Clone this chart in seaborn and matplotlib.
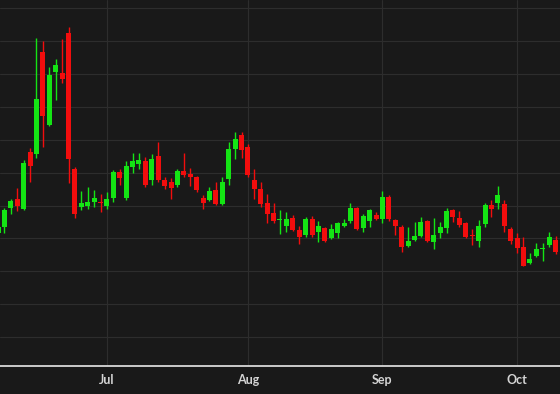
import matplotlib
matplotlib.use('Agg')
import matplotlib.pyplot as plt
import numpy as np
import pandas as pd
import seaborn as sns


# daily candles, one entry per trading day
opens = [41.6, 43.5, 49.2, 52.0, 48.9, 66.3, 65.7, 96.7, 74.5, 90.6, 90.3, 102.4, 61.1,
         49.5, 49.8, 51.1, 51.1, 49.8, 52.3, 60.2, 52.3, 61.7, 62.6, 63.5, 57.8, 65.0,
         57.8, 57.1, 56.2, 60.5, 59.6, 58.7, 52.3, 51.7, 54.7, 50.5, 58.1, 67.2, 71.4,
         67.8, 57.8, 55.0, 50.8, 47.7, 45.5, 43.8, 46.2, 42.6, 41.0, 45.9, 41.9, 43.2,
         40.1, 41.6, 43.8, 45.3, 49.2, 43.2, 45.3, 47.1, 45.9, 52.6, 45.6, 43.5, 37.7,
         39.5, 40.7, 45.3, 38.9, 41.6, 43.2, 48.6, 46.2, 44.7, 41.0, 39.2, 44.4, 50.2,
         50.8, 50.5, 42.9, 40.1, 37.4, 32.5, 34.7, 36.8, 38.0, 39.5]
highs = [44.1, 49.2, 52.0, 55.3, 63.8, 67.5, 100.9, 100.0, 92.1, 94.5, 100.6, 104.3, 61.7,
         54.4, 55.6, 54.7, 53.5, 54.1, 60.8, 61.1, 63.5, 66.0, 66.0, 64.7, 65.7, 69.3,
         58.7, 58.4, 61.1, 66.0, 61.4, 59.0, 53.2, 55.6, 57.1, 58.7, 69.3, 72.3, 72.3,
         68.7, 61.1, 57.1, 53.5, 50.8, 48.6, 48.0, 47.1, 43.8, 46.5, 46.8, 45.3, 43.5,
         44.4, 45.0, 45.9, 50.8, 49.5, 47.4, 48.9, 48.0, 54.4, 53.2, 45.9, 44.1, 43.5,
         45.0, 46.5, 45.6, 46.2, 45.0, 49.2, 48.9, 48.3, 45.0, 42.9, 45.6, 50.8, 51.7,
         55.9, 51.7, 43.5, 41.6, 40.4, 35.6, 38.6, 38.6, 41.9, 40.7]
lows = [40.4, 41.6, 47.4, 48.3, 48.6, 57.1, 64.4, 67.8, 74.2, 82.1, 87.2, 56.8, 46.2,
        48.6, 48.9, 49.5, 48.0, 48.9, 51.1, 56.2, 51.7, 59.9, 61.1, 55.6, 56.2, 57.1,
        55.0, 52.0, 55.6, 58.7, 55.9, 54.1, 48.9, 51.4, 50.2, 50.2, 56.2, 64.1, 64.4,
        58.7, 52.0, 49.5, 44.7, 44.7, 41.3, 41.9, 42.2, 38.3, 40.4, 40.4, 38.9, 38.9,
        39.8, 40.1, 43.5, 44.7, 42.6, 41.9, 43.5, 45.6, 44.7, 45.3, 41.0, 35.9, 37.4,
        39.2, 40.4, 38.9, 36.8, 40.1, 41.6, 45.0, 43.5, 40.1, 38.0, 37.4, 43.5, 46.5,
        48.9, 41.9, 38.3, 35.6, 31.6, 32.2, 34.3, 33.1, 37.4, 35.3]
closes = [43.5, 48.6, 51.4, 49.8, 62.9, 62.0, 82.4, 77.2, 89.7, 92.7, 88.4, 64.1, 47.4,
          50.8, 51.1, 52.3, 50.8, 52.0, 60.2, 58.4, 62.0, 63.5, 63.8, 56.2, 64.1, 57.8,
          55.9, 55.3, 60.5, 59.3, 58.7, 54.7, 50.8, 54.4, 50.5, 57.1, 67.2, 70.2, 66.9,
          59.3, 55.0, 50.5, 47.4, 45.3, 45.6, 45.9, 42.6, 40.4, 45.9, 41.0, 43.8, 39.2,
          42.9, 44.7, 44.7, 49.2, 42.9, 46.8, 48.6, 45.9, 52.6, 45.9, 43.8, 37.4, 39.2,
          40.7, 45.0, 39.2, 41.0, 43.5, 48.3, 46.5, 44.1, 40.4, 40.6, 43.8, 50.2, 48.9,
          53.2, 43.8, 39.2, 37.1, 31.6, 33.7, 36.8, 37.1, 40.4, 35.9]

# first trading day of each month (index into the candles)
month_labels = ['Jul', 'Aug', 'Sep', 'Oct']
month_start_idx = [17, 39, 60, 81]

BG = '#191919'
GRID = '#2d2d2d'
UP = '#14e414'
DOWN = '#f20d0d'


def main() -> None:
  df = pd.DataFrame({'open': opens, 'high': highs, 'low': lows, 'close': closes})
  df['day'] = np.arange(len(df))
  df['up'] = df['close'] >= df['open']
  colors = np.where(df['up'], UP, DOWN)

  sns.set_theme(style='dark')
  plt.rcParams['font.family'] = ['Lato', 'DejaVu Sans']

  fig = plt.figure(figsize=(5.6, 3.94), dpi=100, facecolor=BG)
  ax = fig.add_axes([0, 1 - 366 / 394, 1, 366 / 394])
  ax.set_facecolor(BG)

  # wicks then bodies
  ax.vlines(df['day'], df['low'], df['high'], colors=colors, linewidth=1.0, zorder=3)
  body_bottom = np.minimum(df['open'], df['close'])
  body_height = np.maximum((df['close'] - df['open']).abs(), 0.35)
  ax.bar(df['day'], body_height, bottom=body_bottom, width=0.78, color=colors,
         linewidth=0, zorder=4)

  ax.set_xlim(0.31, 87.7)
  ax.set_ylim(1.2, 112.5)

  ax.set_yticks(np.arange(10, 111, 10))
  ax.set_xticks(month_start_idx)
  ax.set_xticklabels(month_labels)
  ax.grid(True, color=GRID, linewidth=0.8)
  ax.set_axisbelow(True)
  ax.tick_params(axis='y', length=0, labelleft=False)
  ax.tick_params(axis='x', length=0, pad=6, labelsize=9, labelcolor='#d4d4d4')
  for lbl in ax.get_xticklabels():
    lbl.set_fontweight('bold')

  for side in ['top', 'left', 'right']:
    ax.spines[side].set_visible(False)
  ax.spines['bottom'].set_color('#d9d9d9')
  ax.spines['bottom'].set_linewidth(1.3)

  fig.savefig('out.png', dpi=100, facecolor=BG)


if __name__ == '__main__':
  main()
